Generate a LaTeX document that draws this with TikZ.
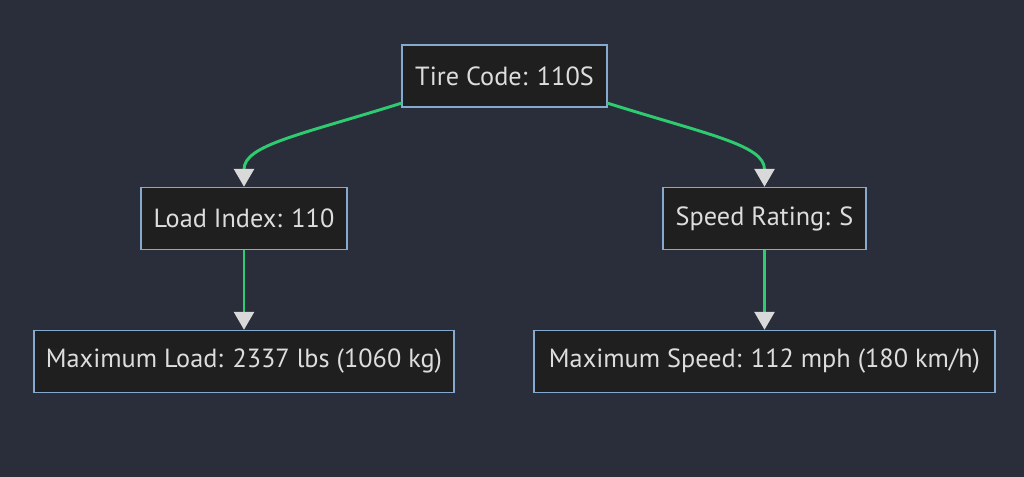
\documentclass[tikz,border=0pt]{standalone}
\usepackage{fontspec}
\setmainfont{PT Sans}
\usetikzlibrary{arrows.meta}
\definecolor{bg}{HTML}{2A2E3A}
\definecolor{nodefill}{HTML}{1F1F1F}
\definecolor{nodeline}{HTML}{86A9CF}
\definecolor{edge}{HTML}{2ECC71}
\definecolor{tip}{HTML}{D9D9D9}
\definecolor{txt}{HTML}{DDDDDD}
\begin{document}
\begin{tikzpicture}[x=0.75pt,y=-0.75pt,
  box/.style={draw=nodeline, fill=nodefill, line width=1.1pt, text=txt,
    font=\fontsize{19.7pt}{22pt}\selectfont, inner sep=0pt, minimum height=62*0.75pt},
  link/.style={draw=edge, line width=2.2pt,
    -{Triangle[width=20*0.75pt,length=18*0.75pt,fill=tip,color=tip]}}]
\fill[bg] (0,0) rectangle (1024,477);
\useasboundingbox (0,0) rectangle (1024,477);
\node[box, minimum width=205*0.75pt] (tc) at (504.5,76) {Tire Code: 110S};
\node[box, minimum width=206*0.75pt] (li) at (244,218.5) {Load Index: 110};
\node[box, minimum width=203*0.75pt] (sr) at (764.5,218.5) {Speed Rating: S};
\node[box, minimum width=420*0.75pt] (ml) at (244,361.5) {Maximum Load: 2337 lbs (1060 kg)};
\node[box, minimum width=461*0.75pt] (ms) at (764.5,361.5) {Maximum Speed: 112 mph (180 km/h)};
\coordinate (tcl) at (402,103);
\coordinate (tcr) at (607,103);
\draw[link] (tcl) .. controls (300,135) and (244,145) .. (li.north);
\draw[link] (tcr) .. controls (709,135) and (764.5,145) .. (sr.north);
\draw[link] (li.south) -- (ml.north);
\draw[link] (sr.south) -- (ms.north);
\end{tikzpicture}
\end{document}
